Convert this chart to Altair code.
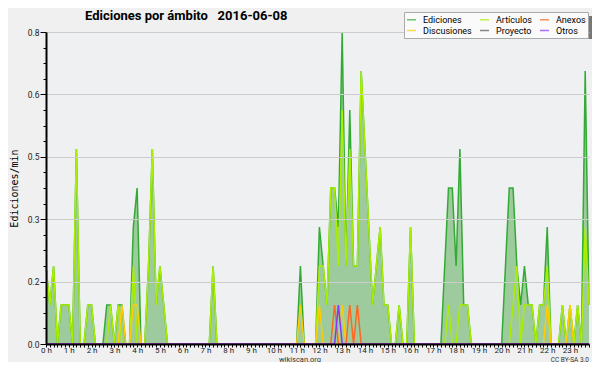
import altair as alt
import pandas as pd

# 10-minute bins (minutes after midnight); labels every hour
bin_minutes = list(range(0, 1440, 10))
# legend fills column by column: (Ediciones, Discusiones) (Artículos, Proyecto) (Anexos, Otros)
series_order = ["Ediciones", "Discusiones", "Artículos", "Proyecto", "Anexos", "Otros"]
series_colors = ["#33aa33", "#ffcc00", "#aaee00", "#555555", "#ff6622", "#8833ff"]
chart_title = "Ediciones por ámbito\u00a0\u00a0 2016-06-08"

# values in edits/min, one row per hour (6 bins of 10 min)
ediciones = [
    0.2, 0.1, 0.2, 0.0, 0.1, 0.1,
    0.1, 0.0, 0.5, 0.0, 0.0, 0.1,
    0.1, 0.0, 0.0, 0.0, 0.1, 0.1,
    0.0, 0.1, 0.1, 0.0, 0.0, 0.3,
    0.4, 0.0, 0.0, 0.2, 0.5, 0.1,
    0.2, 0.1, 0.0, 0.0, 0.0, 0.0,
    0.0, 0.0, 0.0, 0.0, 0.0, 0.0,
    0.0, 0.0, 0.2, 0.0, 0.0, 0.0,
    0.0, 0.0, 0.0, 0.0, 0.0, 0.0,
    0.0, 0.0, 0.0, 0.0, 0.0, 0.0,
    0.0, 0.0, 0.0, 0.0, 0.0, 0.0,
    0.0, 0.2, 0.0, 0.0, 0.0, 0.0,
    0.3, 0.2, 0.1, 0.4, 0.4, 0.3,
    0.8, 0.2, 0.6, 0.2, 0.2, 0.7,
    0.5, 0.3, 0.1, 0.2, 0.3, 0.1,
    0.1, 0.0, 0.0, 0.1, 0.0, 0.0,
    0.3, 0.0, 0.0, 0.0, 0.0, 0.0,
    0.0, 0.0, 0.0, 0.2, 0.4, 0.4,
    0.2, 0.5, 0.1, 0.1, 0.0, 0.0,
    0.0, 0.0, 0.0, 0.0, 0.0, 0.0,
    0.0, 0.2, 0.4, 0.4, 0.2, 0.1,
    0.2, 0.1, 0.1, 0.0, 0.1, 0.1,
    0.3, 0.0, 0.0, 0.0, 0.1, 0.0,
    0.1, 0.0, 0.1, 0.0, 0.7, 0.1,
]
articulos = [
    0.2, 0.1, 0.2, 0.0, 0.1, 0.1,
    0.1, 0.0, 0.5, 0.0, 0.0, 0.1,
    0.1, 0.0, 0.0, 0.0, 0.0, 0.1,
    0.0, 0.1, 0.0, 0.0, 0.0, 0.2,
    0.0, 0.0, 0.0, 0.2, 0.5, 0.1,
    0.2, 0.1, 0.0, 0.0, 0.0, 0.0,
    0.0, 0.0, 0.0, 0.0, 0.0, 0.0,
    0.0, 0.0, 0.2, 0.0, 0.0, 0.0,
    0.0, 0.0, 0.0, 0.0, 0.0, 0.0,
    0.0, 0.0, 0.0, 0.0, 0.0, 0.0,
    0.0, 0.0, 0.0, 0.0, 0.0, 0.0,
    0.0, 0.0, 0.0, 0.0, 0.0, 0.0,
    0.2, 0.2, 0.1, 0.4, 0.4, 0.2,
    0.6, 0.2, 0.5, 0.2, 0.2, 0.7,
    0.5, 0.3, 0.1, 0.2, 0.3, 0.1,
    0.1, 0.0, 0.0, 0.1, 0.0, 0.0,
    0.3, 0.0, 0.0, 0.0, 0.0, 0.0,
    0.0, 0.0, 0.0, 0.0, 0.1, 0.0,
    0.0, 0.1, 0.1, 0.1, 0.0, 0.0,
    0.0, 0.0, 0.0, 0.0, 0.0, 0.0,
    0.0, 0.0, 0.0, 0.1, 0.2, 0.0,
    0.1, 0.1, 0.1, 0.0, 0.1, 0.1,
    0.2, 0.0, 0.0, 0.0, 0.1, 0.0,
    0.1, 0.0, 0.1, 0.0, 0.3, 0.1,
]
discusiones = [
    0.0, 0.0, 0.0, 0.0, 0.0, 0.0,
    0.0, 0.0, 0.0, 0.0, 0.0, 0.0,
    0.0, 0.0, 0.0, 0.0, 0.0, 0.0,
    0.0, 0.0, 0.1, 0.0, 0.0, 0.1,
    0.1, 0.0, 0.0, 0.0, 0.0, 0.0,
    0.0, 0.0, 0.0, 0.0, 0.0, 0.0,
    0.0, 0.0, 0.0, 0.0, 0.0, 0.0,
    0.0, 0.0, 0.0, 0.0, 0.0, 0.0,
    0.0, 0.0, 0.0, 0.0, 0.0, 0.0,
    0.0, 0.0, 0.0, 0.0, 0.0, 0.0,
    0.0, 0.0, 0.0, 0.0, 0.0, 0.0,
    0.0, 0.1, 0.0, 0.0, 0.0, 0.0,
    0.1, 0.0, 0.0, 0.0, 0.0, 0.0,
    0.1, 0.0, 0.0, 0.0, 0.0, 0.0,
    0.0, 0.0, 0.0, 0.0, 0.0, 0.0,
    0.0, 0.0, 0.0, 0.0, 0.0, 0.0,
    0.0, 0.0, 0.0, 0.0, 0.0, 0.0,
    0.0, 0.0, 0.0, 0.0, 0.0, 0.0,
    0.0, 0.0, 0.0, 0.0, 0.0, 0.0,
    0.0, 0.0, 0.0, 0.0, 0.0, 0.0,
    0.0, 0.0, 0.0, 0.0, 0.0, 0.0,
    0.0, 0.0, 0.0, 0.0, 0.0, 0.0,
    0.1, 0.0, 0.0, 0.0, 0.0, 0.0,
    0.1, 0.0, 0.0, 0.0, 0.0, 0.0,
]
anexos = [
    0.0, 0.0, 0.0, 0.0, 0.0, 0.0,
    0.0, 0.0, 0.0, 0.0, 0.0, 0.0,
    0.0, 0.0, 0.0, 0.0, 0.0, 0.0,
    0.0, 0.0, 0.0, 0.0, 0.0, 0.0,
    0.0, 0.0, 0.0, 0.0, 0.0, 0.0,
    0.0, 0.0, 0.0, 0.0, 0.0, 0.0,
    0.0, 0.0, 0.0, 0.0, 0.0, 0.0,
    0.0, 0.0, 0.0, 0.0, 0.0, 0.0,
    0.0, 0.0, 0.0, 0.0, 0.0, 0.0,
    0.0, 0.0, 0.0, 0.0, 0.0, 0.0,
    0.0, 0.0, 0.0, 0.0, 0.0, 0.0,
    0.0, 0.0, 0.0, 0.0, 0.0, 0.0,
    0.0, 0.0, 0.0, 0.0, 0.1, 0.0,
    0.0, 0.0, 0.1, 0.0, 0.1, 0.0,
    0.0, 0.0, 0.0, 0.0, 0.0, 0.0,
    0.0, 0.0, 0.0, 0.0, 0.0, 0.0,
    0.0, 0.0, 0.0, 0.0, 0.0, 0.0,
    0.0, 0.0, 0.0, 0.0, 0.0, 0.0,
    0.0, 0.0, 0.0, 0.0, 0.0, 0.0,
    0.0, 0.0, 0.0, 0.0, 0.0, 0.0,
    0.0, 0.0, 0.0, 0.0, 0.0, 0.0,
    0.0, 0.0, 0.0, 0.0, 0.0, 0.0,
    0.0, 0.0, 0.0, 0.0, 0.0, 0.0,
    0.0, 0.0, 0.0, 0.0, 0.0, 0.0,
]
otros = [
    0.0, 0.0, 0.0, 0.0, 0.0, 0.0,
    0.0, 0.0, 0.0, 0.0, 0.0, 0.0,
    0.0, 0.0, 0.0, 0.0, 0.0, 0.0,
    0.0, 0.0, 0.0, 0.0, 0.0, 0.0,
    0.0, 0.0, 0.0, 0.0, 0.0, 0.0,
    0.0, 0.0, 0.0, 0.0, 0.0, 0.0,
    0.0, 0.0, 0.0, 0.0, 0.0, 0.0,
    0.0, 0.0, 0.0, 0.0, 0.0, 0.0,
    0.0, 0.0, 0.0, 0.0, 0.0, 0.0,
    0.0, 0.0, 0.0, 0.0, 0.0, 0.0,
    0.0, 0.0, 0.0, 0.0, 0.0, 0.0,
    0.0, 0.0, 0.0, 0.0, 0.0, 0.0,
    0.0, 0.0, 0.0, 0.0, 0.0, 0.1,
    0.0, 0.0, 0.0, 0.0, 0.0, 0.0,
    0.0, 0.0, 0.0, 0.0, 0.0, 0.0,
    0.0, 0.0, 0.0, 0.0, 0.0, 0.0,
    0.0, 0.0, 0.0, 0.0, 0.0, 0.0,
    0.0, 0.0, 0.0, 0.0, 0.0, 0.0,
    0.0, 0.0, 0.0, 0.0, 0.0, 0.0,
    0.0, 0.0, 0.0, 0.0, 0.0, 0.0,
    0.0, 0.0, 0.0, 0.0, 0.0, 0.0,
    0.0, 0.0, 0.0, 0.0, 0.0, 0.0,
    0.0, 0.0, 0.0, 0.0, 0.0, 0.0,
    0.0, 0.0, 0.0, 0.0, 0.0, 0.0,
]

x_tick_values = list(range(0, 1431, 10))
y_tick_values = [round(0.04 * k, 2) for k in range(21)]

series_values = {
    "Ediciones": ediciones,
    "Artículos": articulos,
    "Anexos": anexos,
    "Discusiones": discusiones,
    "Otros": otros,
}
rows = []
for name, vals in series_values.items():
    for m, v in zip(bin_minutes, vals):
        rows.append({"minute": m, "serie": name, "value": v})
df = pd.DataFrame(rows)

major = "round(datum.value*100) % 16 == 0"

x_enc = alt.X(
    "minute:Q",
    scale=alt.Scale(domain=[0, 1430], nice=False, zero=False),
    axis=alt.Axis(
        values=x_tick_values,
        labelExpr="datum.value % 60 == 0 ? (datum.value/60) + ' h' : ''",
        labelOverlap=False,
        labelFlush=False,
        labelFont="Roboto",
        labelFontSize=8,
        labelColor="#222222",
        labelPadding=-1,
        tickSize=3,
        tickColor="black",
        domainColor="black",
        domainWidth=2,
        grid=False,
        title=None,
        zindex=1,
    ),
)
y_enc = alt.Y(
    "value:Q",
    scale=alt.Scale(domain=[0, 0.8], nice=False),
    axis=alt.Axis(
        values=y_tick_values,
        labelExpr=f"{major} ? format(datum.value, '.1f') : ''",
        labelOverlap=False,
        labelFlush=False,
        labelFont="Roboto",
        labelFontSize=8.5,
        labelColor="#222222",
        labelPadding=1,
        tickSize={"condition": {"test": major, "value": 6}, "value": 3},
        tickColor="black",
        domainColor="black",
        domainWidth=2,
        grid=True,
        gridColor="#cccccc",
        gridOpacity={"condition": {"test": f"{major} && datum.value > 0", "value": 1}, "value": 0},
        title="Ediciones/min",
        titleFont="DejaVu Sans Mono",
        titleFontSize=10,
        titleFontWeight="normal",
        titleColor="black",
        titleX=-32,
        titleBaseline="middle",
        zindex=1,
    ),
)

legend = alt.Legend(
    title=None,
    orient="none",
    legendX=358,
    legendY=-20,
    columns=3,
    symbolType="stroke",
    symbolSize=81,
    symbolStrokeWidth=1.5,
    symbolOpacity=0.7,
    labelFont="Roboto",
    labelFontSize=9,
    labelColor="black",
    labelOffset=6,
    labelLimit=0,
    rowPadding=-1,
    columnPadding=5,
    padding=2,
    fillColor="#fafafa",
    strokeColor="#aaaaaa",
    gridAlign="each",
    zindex=1,
)
color_enc = alt.Color(
    "serie:N",
    scale=alt.Scale(domain=series_order, range=series_colors),
    legend=legend,
)

base = alt.Chart(df)

shadow = alt.Chart(pd.DataFrame({"k": [0]})).mark_rect(color="#777777").encode(
    x=alt.value(362), x2=alt.value(550), y=alt.value(-16), y2=alt.value(7)
)

area = base.transform_filter("datum.serie == 'Ediciones'").mark_area(
    color="#9ecb9d", opacity=1
).encode(x=x_enc, y=y_enc)

line_layers = []
for name in ["Ediciones", "Artículos", "Discusiones", "Anexos", "Otros"]:
    line_layers.append(
        base.transform_filter(alt.datum.serie == name)
        .mark_line(strokeWidth=1.5)
        .encode(x=x_enc, y=y_enc, color=color_enc)
    )

title_mark = alt.Chart(pd.DataFrame({"t": [chart_title]})).mark_text(
    font="Roboto", fontSize=13, fontWeight="bold", color="black",
    align="left", baseline="alphabetic"
).encode(text="t:N", x=alt.value(39), y=alt.value(-12.5))

site = alt.Chart(pd.DataFrame({"t": ["wikiscan.org"]})).mark_text(
    font="Roboto", fontSize=7.5, color="#333333", align="center", baseline="alphabetic"
).encode(text="t:N", x=alt.value(254), y=alt.value(329.5))

lic = alt.Chart(pd.DataFrame({"t": ["CC BY-SA 3.0"]})).mark_text(
    font="Roboto", fontSize=6.5, color="#333333", align="right", baseline="alphabetic"
).encode(text="t:N", x=alt.value(543), y=alt.value(329.5))

chart = alt.layer(shadow, area, *line_layers, title_mark, site, lic).properties(
    width=543,
    height=312,
    padding={"left": 38, "top": 24, "right": 3, "bottom": 18},
    autosize=alt.AutoSizeParams(type="none"),
    background="#f0f0f0",
).configure_view(stroke=None, fill="#eef0f1")

chart.save("out.html", embed_options={"renderer": "svg", "actions": False})
